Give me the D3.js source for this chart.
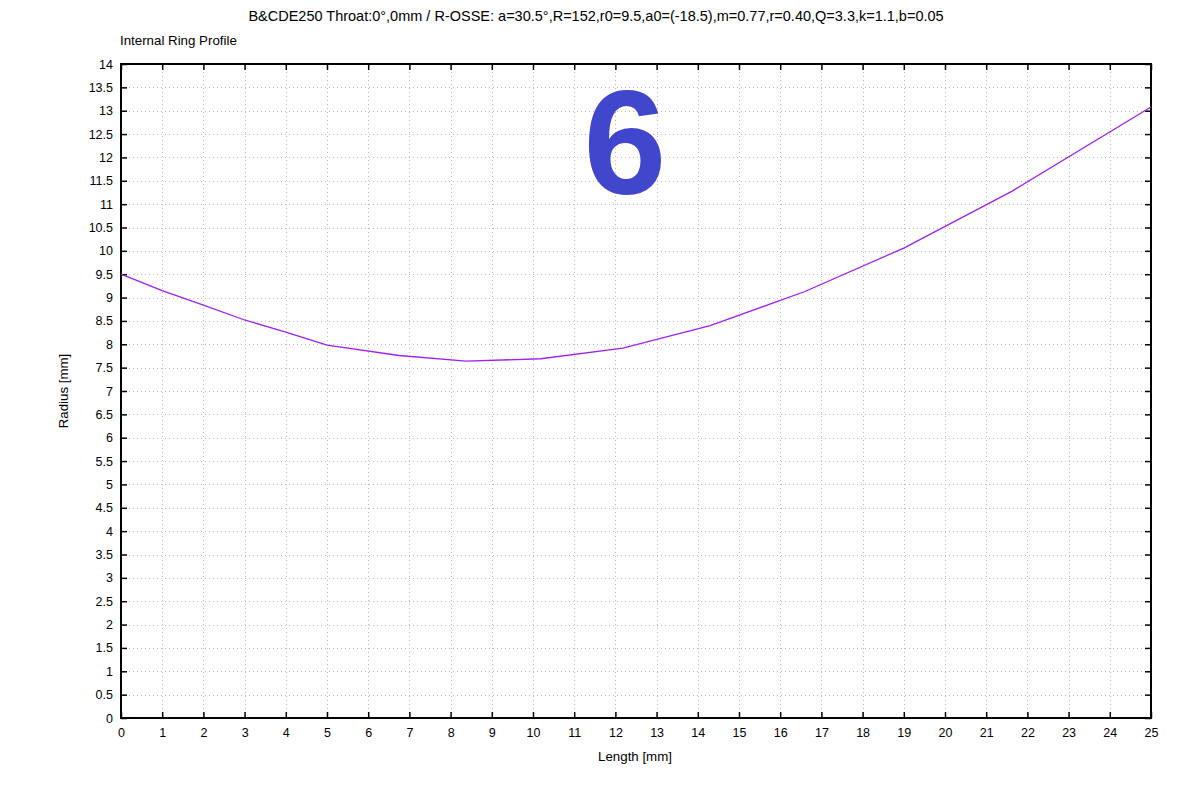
<!DOCTYPE html>
<html><head><meta charset="utf-8">
<script src="https://cdn.jsdelivr.net/npm/d3@7"></script>
<style>body{margin:0;background:#fff;}svg{display:block;font-family:"Liberation Sans",Arial,sans-serif;}</style>
</head><body><svg id="c" width="1200" height="800"></svg>
<script>
const titleText = "B&CDE250 Throat:0°,0mm / R-OSSE: a=30.5°,R=152,r0=9.5,a0=(-18.5),m=0.77,r=0.40,Q=3.3,k=1.1,b=0.05";
const subTitle = "Internal Ring Profile";
const xLabel = "Length [mm]";
const yLabel = "Radius [mm]";
const bigLabel = "6";
const lengthMm = [0, 1, 2, 3, 4, 5, 6.75, 8.37, 10.19, 12.18, 14.3, 16.6, 19.0, 21.63, 25];
const radiusMm = [9.5, 9.15, 8.84, 8.52, 8.26, 7.98, 7.76, 7.64, 7.69, 7.92, 8.4, 9.13, 10.06, 11.28, 13.08];
const xTicks = d3.range(0, 26, 1);
const yTicks = d3.range(0, 14.01, 0.5);

const svg = d3.select("#c");
const L = 121, R = 1151, T = 64, B = 718;
const x = d3.scaleLinear().domain([0, 25]).range([L, R]);
const y = d3.scaleLinear().domain([0, 14]).range([B, T]);

// grid
const g = svg.append("g");
g.selectAll(".vg").data(xTicks.slice(1, -1)).enter().append("line")
  .attr("x1", d => Math.round(x(d)) + 0.5).attr("x2", d => Math.round(x(d)) + 0.5).attr("y1", T).attr("y2", B)
  .attr("stroke", "#bbbbbb").attr("stroke-width", 1).attr("stroke-dasharray", "1,3");
g.selectAll(".hg").data(yTicks.slice(1, -1)).enter().append("line")
  .attr("y1", d => Math.round(y(d)) + 0.5).attr("y2", d => Math.round(y(d)) + 0.5).attr("x1", L).attr("x2", R)
  .attr("stroke", "#bbbbbb").attr("stroke-width", 1).attr("stroke-dasharray", "1,3");

// axes with inward ticks
const axB = d3.axisBottom(x).tickValues(xTicks).tickSize(-6).tickPadding(10).tickFormat(d3.format("d"));
const axT = d3.axisTop(x).tickValues(xTicks).tickSize(-6).tickFormat("");
const axL = d3.axisLeft(y).tickValues(yTicks).tickSize(-6).tickPadding(8).tickFormat(d => d3.format("")(d));
const axR = d3.axisRight(y).tickValues(yTicks).tickSize(-6).tickFormat("");
function style(sel){ sel.select(".domain").attr("stroke","#000").attr("stroke-width",2);
  sel.selectAll(".tick line").attr("stroke","#000").attr("stroke-width",1.5);
  sel.selectAll("text").attr("fill","#000").attr("font-size","12.5px").attr("font-family","'Liberation Sans',Arial,sans-serif"); }
svg.append("g").attr("transform", `translate(0,${B})`).call(axB).call(style);
svg.append("g").attr("transform", `translate(0,${T})`).call(axT).call(style);
svg.append("g").attr("transform", `translate(${L},0)`).call(axL).call(style);
svg.append("g").attr("transform", `translate(${R},0)`).call(axR).call(style);
svg.selectAll(".domain").attr("d", null);
svg.append("rect").attr("x", L).attr("y", T).attr("width", R - L).attr("height", B - T)
  .attr("fill", "none").attr("stroke", "#000").attr("stroke-width", 2);

// big number
svg.append("text").attr("x", 625).attr("y", 194).attr("text-anchor", "middle")
  .attr("font-size", "149px").attr("font-weight", "bold").attr("fill", "#4147CD").text(bigLabel);

// line
const pts = lengthMm.map((d, i) => [d, radiusMm[i]]);
svg.append("path").datum(pts)
  .attr("d", d3.line().x(d => x(d[0])).y(d => y(d[1])))
  .attr("fill", "none").attr("stroke", "#A020F0").attr("stroke-width", 1.3);

// texts
svg.append("text").attr("x", 596).attr("y", 21).attr("text-anchor", "middle").attr("font-size", "14.5px").attr("fill", "#000").text(titleText);
svg.append("text").attr("x", 120).attr("y", 45).attr("font-size", "13.3px").attr("fill", "#000").text(subTitle);
svg.append("text").attr("x", 635).attr("y", 761).attr("text-anchor", "middle").attr("font-size", "13.3px").attr("fill", "#000").text(xLabel);
svg.append("text").attr("transform", "translate(68,391) rotate(-90)").attr("text-anchor", "middle").attr("font-size", "13.3px").attr("fill", "#000").text(yLabel);
</script></body></html>
